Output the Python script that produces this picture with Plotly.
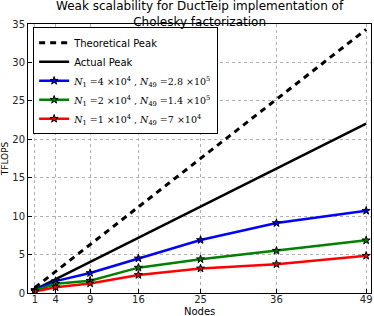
import plotly.graph_objects as go

nodes = [1, 4, 9, 16, 25, 36, 49]
theoretical_peak = [0.7, 2.8, 6.3, 11.2, 17.5, 25.2, 34.3]
actual_peak = [0.45, 1.8, 4.05, 7.2, 11.25, 16.2, 22.05]
blue_vals = [0.4, 1.55, 2.6, 4.5, 6.9, 9.1, 10.7]
green_vals = [0.3, 1.2, 1.6, 3.3, 4.4, 5.5, 6.85]
red_vals = [0.2, 0.75, 1.25, 2.35, 3.2, 3.75, 4.85]
y_ticks = [0, 5, 10, 15, 20, 25, 30, 35]

SERIF = "font-family:'DejaVu Serif','Liberation Serif',serif;font-size:9.5px"

def mlabel(n1, n49):
    return (f"<span style=\"{SERIF}\"><i>N</i><sub>1</sub> ={n1} , "
            f"<i>N</i><sub>49</sub> ={n49}</span>")

fig = go.Figure()
fig.add_trace(go.Scatter(x=nodes, y=theoretical_peak, mode="lines", name="Theoretical Peak",
                         line=dict(color="black", width=3, dash="6px,5px")))
fig.add_trace(go.Scatter(x=nodes, y=actual_peak, mode="lines", name="Actual Peak",
                         line=dict(color="black", width=2.5)))
series = [
    (blue_vals, "#0000ff", mlabel("4 ×10<sup>4</sup>", "2.8 ×10<sup>5</sup>")),
    (green_vals, "#008000", mlabel("2 ×10<sup>4</sup>", "1.4 ×10<sup>5</sup>")),
    (red_vals, "#ff0000", mlabel("1 ×10<sup>4</sup>", "7 ×10<sup>4</sup>")),
]
for vals, col, name in series:
    fig.add_trace(go.Scatter(x=nodes, y=vals, mode="lines+markers", name=name,
                             line=dict(color=col, width=2.5),
                             marker=dict(symbol="star", size=6, color=col,
                                         line=dict(color="black", width=1))))

axis_common = dict(showline=True, linecolor="black", linewidth=1, mirror=True,
                   showgrid=True, gridcolor="#b0b0b0", griddash="dot", gridwidth=1,
                   ticks="inside", ticklen=4, tickcolor="black", zeroline=False,
                   automargin=False,
                   tickfont=dict(family="DejaVu Sans", size=10, color="#222"))

fig.update_layout(
    width=374, height=316,
    margin=dict(l=28, r=3, t=24, b=23),
    paper_bgcolor="white", plot_bgcolor="white",
    font=dict(family="DejaVu Sans", color="black"),
    xaxis=dict(range=[0, 49.7], tickvals=nodes, ticklabelstandoff=-3, **axis_common),
    yaxis=dict(range=[0, 35], tickvals=y_ticks, title=dict(text="TFLOPS", standoff=2,
               font=dict(size=9)), **axis_common),
    legend=dict(x=0.015, y=0.988, xanchor="left", yanchor="top",
                bgcolor="white", bordercolor="black", borderwidth=1,
                font=dict(family="DejaVu Sans", size=10, color="black"),
                tracegroupgap=0, itemwidth=30),
    showlegend=True,
)
fig.add_annotation(text="Weak scalability for DuctTeip implementation of<br>Cholesky factorization",
                   xref="paper", yref="paper", x=0.5, y=1.0, xanchor="center", yanchor="bottom",
                   yshift=-7, showarrow=False,
                   font=dict(family="DejaVu Sans", size=12, color="black"))
fig.add_annotation(text="Nodes", xref="paper", yref="paper", x=0.5, y=0,
                   xanchor="center", yanchor="middle", yshift=-18.5, showarrow=False,
                   font=dict(family="DejaVu Sans", size=10, color="black"))

fig.write_html("out.html", config={"displayModeBar": False},
               post_script="document.body.style.margin='0';")
